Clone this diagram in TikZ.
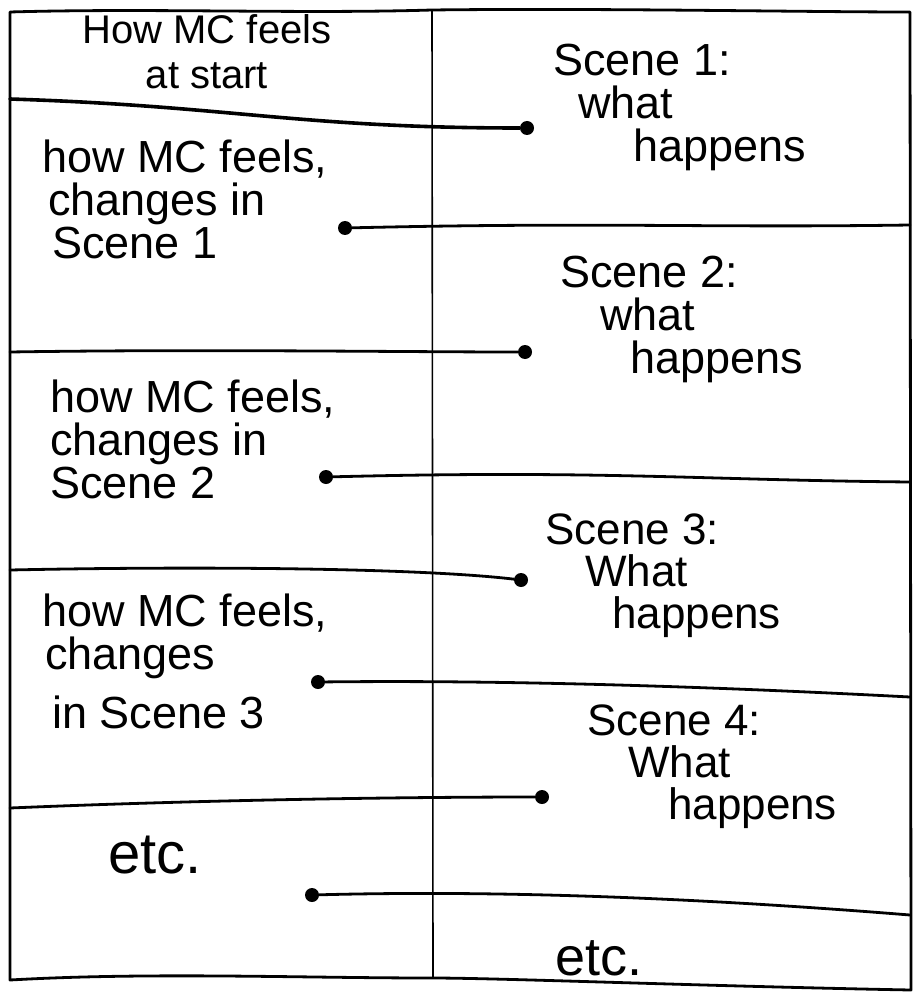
\documentclass[tikz,border=0pt]{standalone}
\usepackage{fontspec}
\setmainfont{Liberation Sans}
\begin{document}
\begin{tikzpicture}[x=1pt,y=-1pt,
  ink/.style={line width=2.8pt, line cap=round, line join=round},
  thinink/.style={line width=1.6pt, line cap=round},
  dot/.style={circle, fill=black, inner sep=0pt, minimum size=14pt},
  hand/.style={font=\fontsize{45}{43}\selectfont, inner sep=0pt, align=left, anchor=north west}]
\useasboundingbox (0,0) rectangle (914,1000);
% outer frame
\draw[ink] (10,12) .. controls (150,8) and (300,14) .. (432,10)
  .. controls (600,8) and (800,12) .. (910,12)
  -- (911,990)
  .. controls (700,986) and (500,978) .. (432,978)
  .. controls (300,978) and (150,972) .. (10,980) -- cycle;
% centre divider
\draw[thinink] (432,10) -- (433,978);
% dots
\node[dot] (d1) at (527,128) {};
\node[dot] (d2) at (345,228) {};
\node[dot] (d3) at (525,352) {};
\node[dot] (d4) at (326,477) {};
\node[dot] (d5) at (521,580) {};
\node[dot] (d6) at (318,682) {};
\node[dot] (d7) at (542,797) {};
\node[dot] (d8) at (312,895) {};
% free ends on the frame
\coordinate (l1) at (10,99);
\coordinate (r2) at (910,225);
\coordinate (l3) at (10,352);
\coordinate (r4) at (910,482);
\coordinate (l5) at (10,570);
\coordinate (r6) at (910,697);
\coordinate (l7) at (10,808);
\coordinate (r8) at (910,915);
% connectors
\draw[ink, line width=3.6pt] (l1) .. controls (230,106) and (300,128) .. (d1);
\draw[ink] (d2) .. controls (600,222) and (700,228) .. (r2);
\draw[ink] (l3) .. controls (200,349) and (400,352) .. (d3);
\draw[ink] (d4) .. controls (600,470) and (700,480) .. (r4);
\draw[ink] (l5) .. controls (200,566) and (420,568) .. (d5);
\draw[ink] (d6) .. controls (500,680) and (700,686) .. (r6);
\draw[ink] (l7) .. controls (200,800) and (400,797) .. (d7);
\draw[ink] (d8) .. controls (500,890) and (700,898) .. (r8);
% texts
\node[hand, anchor=north, align=center, font=\fontsize{40}{45}\selectfont] (t0) at (207,14) {How MC feels\\at start};
\node[hand] (s1) at (553,44) {Scene 1:\\\hspace*{25pt}what\\\hspace*{80pt}happens};
\node[hand] (f1) at (42,140) {how MC feels,\\\hspace*{6pt}changes in\\\hspace*{10pt}Scene 1};
\node[hand] (s2) at (560,256) {Scene 2:\\\hspace*{40pt}what\\\hspace*{70pt}happens};
\node[hand] (f2) at (50,380) {how MC feels,\\changes in\\Scene 2};
\node[hand, font=\fontsize{44}{42}\selectfont] (s3) at (545,514) {Scene 3:\\\hspace*{40pt}What\\\hspace*{67pt}happens};
\node[hand] (f3) at (42,594) {how MC feels,\\\hspace*{3pt}changes\\[16pt]\hspace*{10pt}in Scene 3};
\node[hand, font=\fontsize{44}{42}\selectfont] (s4) at (587,705) {Scene 4:\\\hspace*{41pt}What\\\hspace*{81pt}happens};
\node[hand, anchor=base west, font=\fontsize{58}{58}\selectfont] (e1) at (108,873) {etc.};
\node[hand, anchor=base west, font=\fontsize{54}{54}\selectfont] (e2) at (555,975) {etc.};
\end{tikzpicture}
\end{document}
